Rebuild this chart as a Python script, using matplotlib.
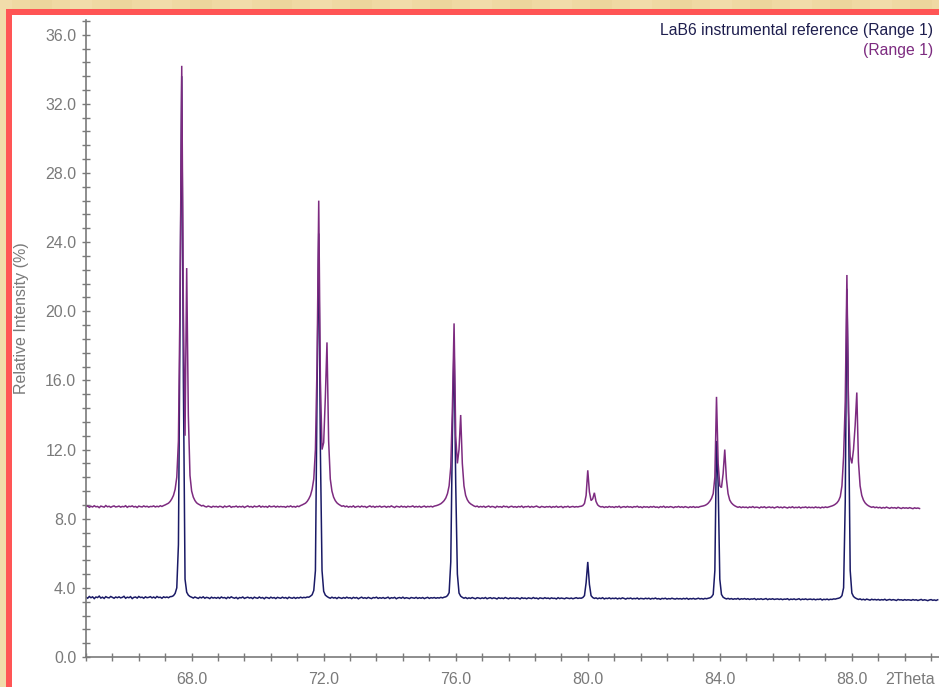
import numpy as np
import matplotlib
matplotlib.use("Agg")
import matplotlib.pyplot as plt
from matplotlib.ticker import MultipleLocator, FormatStrFormatter
from matplotlib.patches import Rectangle
from matplotlib import font_manager

# ---------------- data (2Theta scan, 0.05 deg step starting at 64.80) ----------------
x_start = 64.80
x_step = 0.05

# top trace (purple), one row per 1.0 deg (20 samples)
purple_rows = [
    [8.70, 8.74, 8.66, 8.72, 8.68, 8.75, 8.69, 8.71, 8.64, 8.73, 8.70, 8.67, 8.76, 8.69, 8.72, 8.66, 8.71, 8.74, 8.68, 8.70],
    [8.73, 8.67, 8.71, 8.69, 8.75, 8.66, 8.72, 8.70, 8.74, 8.68, 8.71, 8.65, 8.73, 8.70, 8.68, 8.74, 8.69, 8.72, 8.67, 8.71],
    [8.70, 8.74, 8.68, 8.72, 8.69, 8.75, 8.71, 8.76, 8.80, 8.85, 8.90, 9.00, 9.15, 9.35, 9.70, 10.4, 12.5, 21.0, 34.2, 20.0],
    [12.8, 22.5, 14.0, 10.5, 9.60, 9.25, 9.05, 8.92, 8.85, 8.80, 8.74, 8.77, 8.71, 8.68, 8.73, 8.70, 8.66, 8.72, 8.69, 8.71],
    [8.67, 8.72, 8.70, 8.65, 8.73, 8.68, 8.71, 8.74, 8.66, 8.70, 8.69, 8.73, 8.67, 8.71, 8.68, 8.72, 8.65, 8.70, 8.74, 8.68],
    [8.71, 8.66, 8.73, 8.69, 8.70, 8.75, 8.67, 8.72, 8.68, 8.71, 8.66, 8.74, 8.69, 8.70, 8.73, 8.67, 8.72, 8.68, 8.71, 8.69],
    [8.70, 8.66, 8.72, 8.69, 8.74, 8.68, 8.71, 8.67, 8.73, 8.70, 8.76, 8.80, 8.85, 8.90, 9.00, 9.15, 9.35, 9.70, 10.3, 12.0],
    [17.0, 26.4, 16.0, 12.0, 12.4, 15.0, 18.2, 12.5, 10.3, 9.60, 9.25, 9.05, 8.92, 8.84, 8.78, 8.72, 8.75, 8.69, 8.73, 8.67],
    [8.71, 8.68, 8.74, 8.66, 8.70, 8.72, 8.67, 8.73, 8.69, 8.71, 8.65, 8.70, 8.74, 8.68, 8.72, 8.66, 8.71, 8.69, 8.73, 8.67],
    [8.70, 8.72, 8.66, 8.71, 8.68, 8.74, 8.69, 8.65, 8.72, 8.70, 8.67, 8.73, 8.68, 8.71, 8.66, 8.72, 8.69, 8.70, 8.74, 8.67],
    [8.71, 8.68, 8.72, 8.66, 8.70, 8.73, 8.67, 8.71, 8.69, 8.72, 8.68, 8.73, 8.75, 8.78, 8.82, 8.87, 8.95, 9.05, 9.20, 9.45],
    [9.90, 11.0, 14.5, 19.3, 12.8, 11.2, 12.0, 14.0, 11.2, 9.90, 9.35, 9.10, 8.95, 8.86, 8.80, 8.74, 8.70, 8.73, 8.67, 8.71],
    [8.68, 8.72, 8.66, 8.70, 8.73, 8.67, 8.71, 8.69, 8.64, 8.72, 8.68, 8.70, 8.66, 8.73, 8.69, 8.71, 8.65, 8.70, 8.72, 8.67],
    [8.70, 8.66, 8.71, 8.68, 8.73, 8.65, 8.70, 8.69, 8.72, 8.66, 8.71, 8.67, 8.70, 8.73, 8.68, 8.65, 8.71, 8.69, 8.66, 8.70],
    [8.68, 8.71, 8.65, 8.70, 8.67, 8.72, 8.66, 8.69, 8.71, 8.64, 8.70, 8.68, 8.72, 8.66, 8.69, 8.71, 8.67, 8.70, 8.68, 8.71],
    [8.72, 8.76, 8.88, 9.35, 10.8, 9.55, 9.05, 9.15, 9.50, 9.00, 8.80, 8.72, 8.68, 8.70, 8.65, 8.69, 8.66, 8.71, 8.67, 8.69],
    [8.65, 8.70, 8.67, 8.72, 8.64, 8.68, 8.70, 8.66, 8.71, 8.67, 8.69, 8.65, 8.70, 8.68, 8.72, 8.66, 8.69, 8.64, 8.70, 8.67],
    [8.69, 8.65, 8.70, 8.67, 8.71, 8.66, 8.68, 8.64, 8.70, 8.67, 8.72, 8.65, 8.69, 8.66, 8.70, 8.68, 8.64, 8.69, 8.67, 8.71],
    [8.66, 8.69, 8.65, 8.70, 8.67, 8.64, 8.69, 8.66, 8.70, 8.65, 8.68, 8.66, 8.70, 8.72, 8.74, 8.77, 8.82, 8.90, 9.02, 9.18],
    [9.45, 10.4, 15.05, 11.2, 9.90, 9.80, 10.6, 12.0, 10.3, 9.45, 9.08, 8.92, 8.82, 8.75, 8.70, 8.66, 8.69, 8.64, 8.68, 8.65],
    [8.67, 8.63, 8.68, 8.65, 8.70, 8.64, 8.67, 8.66, 8.62, 8.68, 8.65, 8.69, 8.63, 8.66, 8.68, 8.64, 8.67, 8.62, 8.66, 8.69],
    [8.64, 8.67, 8.63, 8.68, 8.65, 8.62, 8.67, 8.64, 8.69, 8.63, 8.66, 8.64, 8.68, 8.62, 8.66, 8.65, 8.68, 8.63, 8.67, 8.64],
    [8.66, 8.63, 8.68, 8.64, 8.66, 8.62, 8.67, 8.64, 8.68, 8.65, 8.68, 8.71, 8.74, 8.78, 8.84, 8.92, 9.05, 9.28, 9.90, 11.6],
    [14.8, 22.1, 14.2, 11.6, 11.2, 12.0, 13.4, 15.3, 11.3, 9.90, 9.35, 9.08, 8.92, 8.82, 8.75, 8.70, 8.66, 8.69, 8.64, 8.67],
    [8.63, 8.66, 8.61, 8.65, 8.62, 8.67, 8.63, 8.60, 8.65, 8.62, 8.64, 8.60, 8.66, 8.62, 8.59, 8.64, 8.61, 8.63, 8.60, 8.64],
    [8.61, 8.58, 8.63, 8.60, 8.62, 8.59, np.nan, np.nan, np.nan, np.nan, np.nan, np.nan, np.nan, np.nan, np.nan, np.nan, np.nan],
]

# bottom trace (navy)
navy_rows = [
    [3.46, 3.40, 3.50, 3.43, 3.48, 3.38, 3.47, 3.44, 3.52, 3.41, 3.46, 3.39, 3.49, 3.44, 3.42, 3.50, 3.45, 3.40, 3.47, 3.43],
    [3.48, 3.42, 3.45, 3.51, 3.40, 3.46, 3.43, 3.49, 3.38, 3.45, 3.47, 3.41, 3.50, 3.44, 3.46, 3.40, 3.48, 3.43, 3.45, 3.49],
    [3.42, 3.47, 3.41, 3.50, 3.44, 3.46, 3.40, 3.48, 3.44, 3.47, 3.43, 3.49, 3.50, 3.55, 3.68, 4.00, 6.50, 20.0, 33.6, 16.0],
    [4.50, 3.75, 3.58, 3.50, 3.46, 3.41, 3.47, 3.43, 3.39, 3.46, 3.42, 3.48, 3.40, 3.45, 3.43, 3.38, 3.46, 3.41, 3.44, 3.40],
    [3.45, 3.39, 3.47, 3.42, 3.44, 3.38, 3.46, 3.41, 3.48, 3.43, 3.40, 3.45, 3.37, 3.44, 3.42, 3.47, 3.39, 3.43, 3.46, 3.41],
    [3.44, 3.38, 3.46, 3.42, 3.40, 3.47, 3.41, 3.44, 3.37, 3.45, 3.43, 3.39, 3.46, 3.41, 3.44, 3.38, 3.45, 3.42, 3.40, 3.46],
    [3.41, 3.44, 3.38, 3.46, 3.42, 3.40, 3.45, 3.39, 3.44, 3.41, 3.46, 3.42, 3.45, 3.43, 3.47, 3.46, 3.52, 3.60, 3.85, 5.00],
    [15.5, 24.5, 12.0, 5.00, 3.80, 3.58, 3.50, 3.44, 3.40, 3.46, 3.41, 3.44, 3.38, 3.45, 3.42, 3.39, 3.44, 3.40, 3.46, 3.41],
    [3.43, 3.38, 3.45, 3.41, 3.44, 3.37, 3.42, 3.46, 3.40, 3.43, 3.39, 3.45, 3.41, 3.38, 3.44, 3.42, 3.46, 3.39, 3.43, 3.40],
    [3.44, 3.39, 3.42, 3.46, 3.38, 3.43, 3.41, 3.45, 3.37, 3.42, 3.44, 3.40, 3.46, 3.39, 3.43, 3.41, 3.38, 3.44, 3.42, 3.40],
    [3.45, 3.39, 3.43, 3.40, 3.44, 3.38, 3.42, 3.45, 3.39, 3.43, 3.41, 3.44, 3.40, 3.43, 3.41, 3.45, 3.42, 3.46, 3.48, 3.55],
    [3.72, 5.50, 13.0, 18.2, 10.0, 4.80, 3.70, 3.52, 3.45, 3.40, 3.44, 3.38, 3.42, 3.39, 3.44, 3.40, 3.37, 3.43, 3.41, 3.38],
    [3.42, 3.39, 3.44, 3.37, 3.41, 3.43, 3.38, 3.42, 3.40, 3.36, 3.43, 3.39, 3.41, 3.38, 3.44, 3.40, 3.37, 3.42, 3.39, 3.41],
    [3.38, 3.42, 3.40, 3.36, 3.43, 3.39, 3.41, 3.37, 3.42, 3.40, 3.38, 3.44, 3.39, 3.41, 3.36, 3.42, 3.40, 3.38, 3.43, 3.39],
    [3.41, 3.37, 3.42, 3.39, 3.40, 3.36, 3.43, 3.38, 3.41, 3.39, 3.37, 3.42, 3.40, 3.38, 3.41, 3.37, 3.40, 3.43, 3.39, 3.41],
    [3.40, 3.44, 3.55, 4.30, 5.50, 4.20, 3.55, 3.44, 3.39, 3.42, 3.37, 3.41, 3.38, 3.43, 3.36, 3.40, 3.38, 3.42, 3.37, 3.40],
    [3.38, 3.41, 3.36, 3.40, 3.37, 3.42, 3.39, 3.35, 3.40, 3.38, 3.41, 3.36, 3.39, 3.37, 3.41, 3.35, 3.39, 3.38, 3.36, 3.40],
    [3.37, 3.40, 3.35, 3.39, 3.37, 3.41, 3.36, 3.38, 3.34, 3.39, 3.37, 3.40, 3.35, 3.38, 3.36, 3.40, 3.37, 3.35, 3.39, 3.36],
    [3.38, 3.35, 3.39, 3.36, 3.40, 3.34, 3.38, 3.36, 3.39, 3.35, 3.37, 3.40, 3.36, 3.38, 3.35, 3.39, 3.37, 3.40, 3.42, 3.48],
    [3.62, 5.00, 12.5, 10.0, 4.50, 3.62, 3.46, 3.40, 3.36, 3.39, 3.35, 3.38, 3.34, 3.37, 3.35, 3.39, 3.33, 3.37, 3.35, 3.38],
    [3.34, 3.37, 3.33, 3.36, 3.35, 3.38, 3.32, 3.36, 3.34, 3.37, 3.33, 3.35, 3.38, 3.32, 3.36, 3.34, 3.37, 3.33, 3.35, 3.36],
    [3.33, 3.36, 3.32, 3.35, 3.34, 3.37, 3.31, 3.35, 3.33, 3.36, 3.32, 3.34, 3.37, 3.31, 3.35, 3.33, 3.36, 3.32, 3.34, 3.35],
    [3.32, 3.35, 3.31, 3.34, 3.33, 3.36, 3.30, 3.34, 3.32, 3.35, 3.31, 3.34, 3.33, 3.36, 3.35, 3.38, 3.40, 3.44, 3.55, 4.00],
    [9.00, 21.3, 14.0, 5.00, 3.70, 3.50, 3.42, 3.37, 3.33, 3.36, 3.31, 3.34, 3.30, 3.35, 3.32, 3.29, 3.34, 3.31, 3.33, 3.30],
    [3.33, 3.29, 3.32, 3.30, 3.34, 3.28, 3.31, 3.33, 3.29, 3.32, 3.30, 3.27, 3.33, 3.30, 3.31, 3.28, 3.32, 3.29, 3.31, 3.30],
    [3.28, 3.32, 3.29, 3.31, 3.27, 3.30, 3.33, 3.28, 3.31, 3.29, 3.26, 3.30, 3.32, 3.28, 3.30, 3.27, 3.31],
]

x_major_ticks = [68.0, 72.0, 76.0, 80.0, 84.0, 88.0]
y_major_ticks = [0.0, 4.0, 8.0, 12.0, 16.0, 20.0, 24.0, 28.0, 32.0, 36.0]
legend_labels = ["LaB6 instrumental reference (Range 1)", "(Range 1)"]
x_label = "2Theta"
y_label = "Relative Intensity (%)"

# ---------------- styling ----------------
available = {f.name for f in font_manager.fontManager.ttflist}
font = "Liberation Sans Narrow" if "Liberation Sans Narrow" in available else "Liberation Sans"
plt.rcParams["font.family"] = [font, "DejaVu Sans"]

purple = "#7D2B80"
navy = "#1A1A66"
grey = "#7A7A7A"

W, H = 939, 687
fig = plt.figure(figsize=(W / 100, H / 100), dpi=100)
fig.patch.set_facecolor("#EFD9A3")

# background frame
bg = fig.add_axes([0, 0, 1, 1], zorder=-10)
bg.set_xlim(0, W)
bg.set_ylim(0, H)
bg.axis("off")
for i, c in enumerate(["#F5E4B8", "#E8CF92"] * 12):
    bg.add_patch(Rectangle((i * 40 - 10, 0), 22, H, facecolor=c, edgecolor="none", alpha=0.35))
bg.add_patch(Rectangle((6, 0), W, H - 9, facecolor="#FF5555", edgecolor="none"))
bg.add_patch(Rectangle((12, 0), W, H - 15, facecolor="white", edgecolor="none"))

ax = fig.add_axes([86 / W, 30 / H, (W - 86) / W, (657 - 20) / H])
ax.patch.set_visible(False)

y_purple = np.concatenate([np.array(r, dtype=float) for r in purple_rows])
y_navy = np.concatenate([np.array(r, dtype=float) for r in navy_rows])
x_p = x_start + x_step * np.arange(len(y_purple))
x_n = x_start + x_step * np.arange(len(y_navy))

ax.plot(x_n, y_navy, color=navy, lw=1.1, solid_joinstyle="miter")
ax.plot(x_p, y_purple, color=purple, lw=1.1, solid_joinstyle="miter")

ax.set_xlim(64.8, 90.64)
ax.set_ylim(0, 36.85)

for s in ["top", "right"]:
    ax.spines[s].set_visible(False)
for s in ["left", "bottom"]:
    ax.spines[s].set_color(grey)
    ax.spines[s].set_linewidth(1.2)

ax.set_xticks(x_major_ticks)
ax.set_yticks(y_major_ticks)
ax.xaxis.set_minor_locator(MultipleLocator(0.8))
ax.yaxis.set_minor_locator(MultipleLocator(0.8))
ax.xaxis.set_major_formatter(FormatStrFormatter("%.1f"))
ax.yaxis.set_major_formatter(FormatStrFormatter("%.1f"))
ax.tick_params(which="both", direction="inout", length=6, width=1, color=grey,
               labelcolor=grey, labelsize=11.5)
ax.tick_params(axis="y", which="major", pad=4)
ax.tick_params(axis="x", which="major", pad=8)

fig.text(910 / W, 1 - 679 / H, x_label, color=grey, fontsize=11.5, ha="center", va="center")
fig.text(22 / W, 1 - 318 / H, y_label, color=grey, fontsize=11.5, rotation=90,
         ha="center", va="center")

fig.text(933 / W, 1 - 30 / H, legend_labels[0], color="#1E1E4E", fontsize=11.3,
         ha="right", va="center")
fig.text(933 / W, 1 - 50 / H, legend_labels[1], color=purple, fontsize=11.3,
         ha="right", va="center")

fig.savefig("out.png", dpi=100, facecolor=fig.get_facecolor())
